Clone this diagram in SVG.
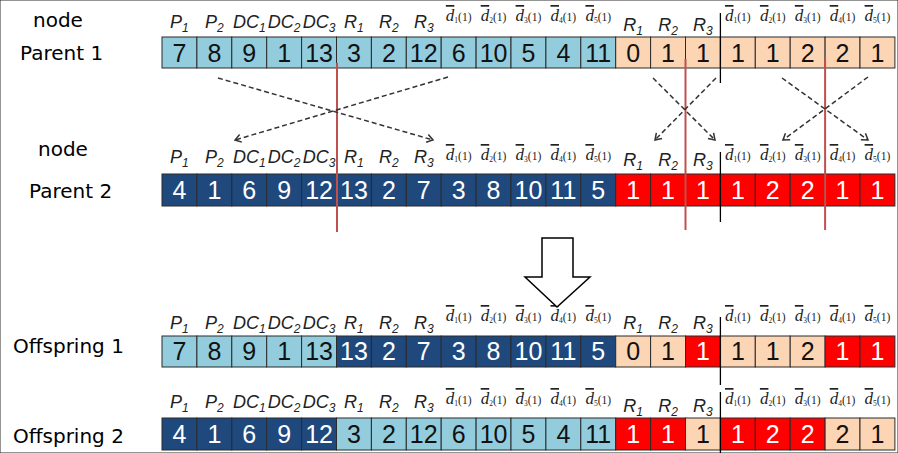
<svg xmlns="http://www.w3.org/2000/svg" width="898" height="453" viewBox="0 0 898 453">
<defs>
<style>
.lbl{font-family:'DejaVu Sans',sans-serif;font-size:20px;fill:#000}
rect{stroke:#2b2b2b;stroke-width:1}
.lb{fill:#93CDDD}
.db{fill:#1F497D}
.pe{fill:#FCD5B4}
.rd{fill:#FF0000}
.n{font-family:'Liberation Sans',Arial,sans-serif;font-size:25px;text-anchor:middle}
.k{fill:#111}
.w{fill:#fff}
.h{font-family:'Liberation Sans',Arial,sans-serif;font-style:italic;font-size:18px;text-anchor:middle;fill:#222}
.s{font-size:12px}
.d{font-family:'Liberation Serif','Times New Roman',serif;font-size:11.5px;text-anchor:middle;fill:#222}
.dd{font-style:italic;font-size:17px;text-decoration:overline}
.ds{font-size:7.5px}
.cut{stroke:#C0504D;stroke-width:2}
.sep{stroke:#000;stroke-width:1.3}
.x{stroke:#333;stroke-width:1.5;stroke-dasharray:5 3;fill:none;marker-end:url(#ah)}
</style>
<marker id="ah" markerWidth="10" markerHeight="10" refX="8" refY="5" orient="auto" markerUnits="userSpaceOnUse">
<path d="M2,1 L8,5 L2,9" fill="none" stroke="#333" stroke-width="1.5"/>
</marker>
</defs>
<rect x="0" y="0" width="898" height="453" fill="#fff" stroke="none"/>

<g id="labels">
<text class="lbl" x="33" y="27">node</text>
<text class="lbl" x="20" y="60">Parent 1</text>
<text class="lbl" x="38" y="156">node</text>
<text class="lbl" x="29" y="198">Parent 2</text>
<text class="lbl" x="13" y="353">Offspring 1</text>
<text class="lbl" x="13" y="443">Offspring 2</text>
</g>

<g id="parent1" transform="translate(0,37)">
<rect class="lb" x="162" y="0" width="34.9" height="31"/><rect class="lb" x="196.9" y="0" width="34.9" height="31"/><rect class="lb" x="231.8" y="0" width="34.9" height="31"/><rect class="lb" x="266.7" y="0" width="34.9" height="31"/><rect class="lb" x="301.6" y="0" width="34.9" height="31"/><rect class="lb" x="336.5" y="0" width="34.9" height="31"/><rect class="lb" x="371.4" y="0" width="34.9" height="31"/><rect class="lb" x="406.3" y="0" width="34.9" height="31"/><rect class="lb" x="441.2" y="0" width="34.9" height="31"/><rect class="lb" x="476.1" y="0" width="34.9" height="31"/><rect class="lb" x="511" y="0" width="34.9" height="31"/><rect class="lb" x="545.9" y="0" width="34.9" height="31"/><rect class="lb" x="580.8" y="0" width="34.9" height="31"/><rect class="pe" x="615.7" y="0" width="34.9" height="31"/><rect class="pe" x="650.6" y="0" width="34.9" height="31"/><rect class="pe" x="685.5" y="0" width="34.9" height="31"/><rect class="pe" x="720.4" y="0" width="34.9" height="31"/><rect class="pe" x="755.3" y="0" width="34.9" height="31"/><rect class="pe" x="790.2" y="0" width="34.9" height="31"/><rect class="pe" x="825.1" y="0" width="34.9" height="31"/><rect class="pe" x="860" y="0" width="34.9" height="31"/>
<g class="n">
<text class="k" x="179.45" y="25">7</text><text class="k" x="214.35" y="25">8</text><text class="k" x="249.25" y="25">9</text><text class="k" x="284.15" y="25">1</text><text class="k" x="319.05" y="25">13</text><text class="k" x="353.95" y="25">3</text><text class="k" x="388.85" y="25">2</text><text class="k" x="423.75" y="25">12</text><text class="k" x="458.65" y="25">6</text><text class="k" x="493.55" y="25">10</text><text class="k" x="528.45" y="25">5</text><text class="k" x="563.35" y="25">4</text><text class="k" x="598.25" y="25">11</text><text class="k" x="633.15" y="25">0</text><text class="k" x="668.05" y="25">1</text><text class="k" x="702.95" y="25">1</text><text class="k" x="737.85" y="25">1</text><text class="k" x="772.75" y="25">1</text><text class="k" x="807.65" y="25">2</text><text class="k" x="842.55" y="25">2</text><text class="k" x="877.45" y="25">1</text>
</g>
<text class="h" x="179.45" y="-9">P<tspan class="s" dy="4">1</tspan></text><text class="h" x="214.35" y="-9">P<tspan class="s" dy="4">2</tspan></text><text class="h" x="249.25" y="-9">DC<tspan class="s" dy="4">1</tspan></text><text class="h" x="284.15" y="-9">DC<tspan class="s" dy="4">2</tspan></text><text class="h" x="319.05" y="-9">DC<tspan class="s" dy="4">3</tspan></text><text class="h" x="353.95" y="-9">R<tspan class="s" dy="4">1</tspan></text><text class="h" x="388.85" y="-9">R<tspan class="s" dy="4">2</tspan></text><text class="h" x="423.75" y="-9">R<tspan class="s" dy="4">3</tspan></text>
<text class="d" x="458.65" y="-16"><tspan class="dd">d</tspan><tspan class="ds" dy="2">1</tspan><tspan dy="-2">(1)</tspan></text><text class="d" x="493.55" y="-16"><tspan class="dd">d</tspan><tspan class="ds" dy="2">2</tspan><tspan dy="-2">(1)</tspan></text><text class="d" x="528.45" y="-16"><tspan class="dd">d</tspan><tspan class="ds" dy="2">3</tspan><tspan dy="-2">(1)</tspan></text><text class="d" x="563.35" y="-16"><tspan class="dd">d</tspan><tspan class="ds" dy="2">4</tspan><tspan dy="-2">(1)</tspan></text><text class="d" x="598.25" y="-16"><tspan class="dd">d</tspan><tspan class="ds" dy="2">5</tspan><tspan dy="-2">(1)</tspan></text>
<text class="h" x="633.15" y="-6">R<tspan class="s" dy="4">1</tspan></text><text class="h" x="668.05" y="-6">R<tspan class="s" dy="4">2</tspan></text><text class="h" x="702.95" y="-6">R<tspan class="s" dy="4">3</tspan></text>
<text class="d" x="737.85" y="-16"><tspan class="dd">d</tspan><tspan class="ds" dy="2">1</tspan><tspan dy="-2">(1)</tspan></text><text class="d" x="772.75" y="-16"><tspan class="dd">d</tspan><tspan class="ds" dy="2">2</tspan><tspan dy="-2">(1)</tspan></text><text class="d" x="807.65" y="-16"><tspan class="dd">d</tspan><tspan class="ds" dy="2">3</tspan><tspan dy="-2">(1)</tspan></text><text class="d" x="842.55" y="-16"><tspan class="dd">d</tspan><tspan class="ds" dy="2">4</tspan><tspan dy="-2">(1)</tspan></text><text class="d" x="877.45" y="-16"><tspan class="dd">d</tspan><tspan class="ds" dy="2">5</tspan><tspan dy="-2">(1)</tspan></text>
</g>

<g id="parent2" transform="translate(0,174)">
<rect class="db" x="162" y="0" width="34.9" height="32"/><rect class="db" x="196.9" y="0" width="34.9" height="32"/><rect class="db" x="231.8" y="0" width="34.9" height="32"/><rect class="db" x="266.7" y="0" width="34.9" height="32"/><rect class="db" x="301.6" y="0" width="34.9" height="32"/><rect class="db" x="336.5" y="0" width="34.9" height="32"/><rect class="db" x="371.4" y="0" width="34.9" height="32"/><rect class="db" x="406.3" y="0" width="34.9" height="32"/><rect class="db" x="441.2" y="0" width="34.9" height="32"/><rect class="db" x="476.1" y="0" width="34.9" height="32"/><rect class="db" x="511" y="0" width="34.9" height="32"/><rect class="db" x="545.9" y="0" width="34.9" height="32"/><rect class="db" x="580.8" y="0" width="34.9" height="32"/><rect class="rd" x="615.7" y="0" width="34.9" height="32"/><rect class="rd" x="650.6" y="0" width="34.9" height="32"/><rect class="rd" x="685.5" y="0" width="34.9" height="32"/><rect class="rd" x="720.4" y="0" width="34.9" height="32"/><rect class="rd" x="755.3" y="0" width="34.9" height="32"/><rect class="rd" x="790.2" y="0" width="34.9" height="32"/><rect class="rd" x="825.1" y="0" width="34.9" height="32"/><rect class="rd" x="860" y="0" width="34.9" height="32"/>
<g class="n">
<text class="w" x="179.45" y="25">4</text><text class="w" x="214.35" y="25">1</text><text class="w" x="249.25" y="25">6</text><text class="w" x="284.15" y="25">9</text><text class="w" x="319.05" y="25">12</text><text class="w" x="353.95" y="25">13</text><text class="w" x="388.85" y="25">2</text><text class="w" x="423.75" y="25">7</text><text class="w" x="458.65" y="25">3</text><text class="w" x="493.55" y="25">8</text><text class="w" x="528.45" y="25">10</text><text class="w" x="563.35" y="25">11</text><text class="w" x="598.25" y="25">5</text><text class="w" x="633.15" y="25">1</text><text class="w" x="668.05" y="25">1</text><text class="w" x="702.95" y="25">1</text><text class="w" x="737.85" y="25">1</text><text class="w" x="772.75" y="25">2</text><text class="w" x="807.65" y="25">2</text><text class="w" x="842.55" y="25">1</text><text class="w" x="877.45" y="25">1</text>
</g>
<text class="h" x="179.45" y="-11">P<tspan class="s" dy="4">1</tspan></text><text class="h" x="214.35" y="-11">P<tspan class="s" dy="4">2</tspan></text><text class="h" x="249.25" y="-11">DC<tspan class="s" dy="4">1</tspan></text><text class="h" x="284.15" y="-11">DC<tspan class="s" dy="4">2</tspan></text><text class="h" x="319.05" y="-11">DC<tspan class="s" dy="4">3</tspan></text><text class="h" x="353.95" y="-11">R<tspan class="s" dy="4">1</tspan></text><text class="h" x="388.85" y="-11">R<tspan class="s" dy="4">2</tspan></text><text class="h" x="423.75" y="-11">R<tspan class="s" dy="4">3</tspan></text>
<text class="d" x="458.65" y="-14"><tspan class="dd">d</tspan><tspan class="ds" dy="2">1</tspan><tspan dy="-2">(1)</tspan></text><text class="d" x="493.55" y="-14"><tspan class="dd">d</tspan><tspan class="ds" dy="2">2</tspan><tspan dy="-2">(1)</tspan></text><text class="d" x="528.45" y="-14"><tspan class="dd">d</tspan><tspan class="ds" dy="2">3</tspan><tspan dy="-2">(1)</tspan></text><text class="d" x="563.35" y="-14"><tspan class="dd">d</tspan><tspan class="ds" dy="2">4</tspan><tspan dy="-2">(1)</tspan></text><text class="d" x="598.25" y="-14"><tspan class="dd">d</tspan><tspan class="ds" dy="2">5</tspan><tspan dy="-2">(1)</tspan></text>
<text class="h" x="633.15" y="-8">R<tspan class="s" dy="4">1</tspan></text><text class="h" x="668.05" y="-8">R<tspan class="s" dy="4">2</tspan></text><text class="h" x="702.95" y="-8">R<tspan class="s" dy="4">3</tspan></text>
<text class="d" x="737.85" y="-14"><tspan class="dd">d</tspan><tspan class="ds" dy="2">1</tspan><tspan dy="-2">(1)</tspan></text><text class="d" x="772.75" y="-14"><tspan class="dd">d</tspan><tspan class="ds" dy="2">2</tspan><tspan dy="-2">(1)</tspan></text><text class="d" x="807.65" y="-14"><tspan class="dd">d</tspan><tspan class="ds" dy="2">3</tspan><tspan dy="-2">(1)</tspan></text><text class="d" x="842.55" y="-14"><tspan class="dd">d</tspan><tspan class="ds" dy="2">4</tspan><tspan dy="-2">(1)</tspan></text><text class="d" x="877.45" y="-14"><tspan class="dd">d</tspan><tspan class="ds" dy="2">5</tspan><tspan dy="-2">(1)</tspan></text>
</g>

<g id="offspring1" transform="translate(0,336)">
<rect class="lb" x="162" y="0" width="34.9" height="31"/><rect class="lb" x="196.9" y="0" width="34.9" height="31"/><rect class="lb" x="231.8" y="0" width="34.9" height="31"/><rect class="lb" x="266.7" y="0" width="34.9" height="31"/><rect class="lb" x="301.6" y="0" width="34.9" height="31"/><rect class="db" x="336.5" y="0" width="34.9" height="31"/><rect class="db" x="371.4" y="0" width="34.9" height="31"/><rect class="db" x="406.3" y="0" width="34.9" height="31"/><rect class="db" x="441.2" y="0" width="34.9" height="31"/><rect class="db" x="476.1" y="0" width="34.9" height="31"/><rect class="db" x="511" y="0" width="34.9" height="31"/><rect class="db" x="545.9" y="0" width="34.9" height="31"/><rect class="db" x="580.8" y="0" width="34.9" height="31"/><rect class="pe" x="615.7" y="0" width="34.9" height="31"/><rect class="pe" x="650.6" y="0" width="34.9" height="31"/><rect class="rd" x="685.5" y="0" width="34.9" height="31"/><rect class="pe" x="720.4" y="0" width="34.9" height="31"/><rect class="pe" x="755.3" y="0" width="34.9" height="31"/><rect class="pe" x="790.2" y="0" width="34.9" height="31"/><rect class="rd" x="825.1" y="0" width="34.9" height="31"/><rect class="rd" x="860" y="0" width="34.9" height="31"/>
<g class="n">
<text class="k" x="179.45" y="24">7</text><text class="k" x="214.35" y="24">8</text><text class="k" x="249.25" y="24">9</text><text class="k" x="284.15" y="24">1</text><text class="k" x="319.05" y="24">13</text><text class="w" x="353.95" y="24">13</text><text class="w" x="388.85" y="24">2</text><text class="w" x="423.75" y="24">7</text><text class="w" x="458.65" y="24">3</text><text class="w" x="493.55" y="24">8</text><text class="w" x="528.45" y="24">10</text><text class="w" x="563.35" y="24">11</text><text class="w" x="598.25" y="24">5</text><text class="k" x="633.15" y="24">0</text><text class="k" x="668.05" y="24">1</text><text class="w" x="702.95" y="24">1</text><text class="k" x="737.85" y="24">1</text><text class="k" x="772.75" y="24">1</text><text class="k" x="807.65" y="24">2</text><text class="w" x="842.55" y="24">1</text><text class="w" x="877.45" y="24">1</text>
</g>
<text class="h" x="179.45" y="-7">P<tspan class="s" dy="4">1</tspan></text><text class="h" x="214.35" y="-7">P<tspan class="s" dy="4">2</tspan></text><text class="h" x="249.25" y="-7">DC<tspan class="s" dy="4">1</tspan></text><text class="h" x="284.15" y="-7">DC<tspan class="s" dy="4">2</tspan></text><text class="h" x="319.05" y="-7">DC<tspan class="s" dy="4">3</tspan></text><text class="h" x="353.95" y="-7">R<tspan class="s" dy="4">1</tspan></text><text class="h" x="388.85" y="-7">R<tspan class="s" dy="4">2</tspan></text><text class="h" x="423.75" y="-7">R<tspan class="s" dy="4">3</tspan></text>
<text class="d" x="458.65" y="-15"><tspan class="dd">d</tspan><tspan class="ds" dy="2">1</tspan><tspan dy="-2">(1)</tspan></text><text class="d" x="493.55" y="-15"><tspan class="dd">d</tspan><tspan class="ds" dy="2">2</tspan><tspan dy="-2">(1)</tspan></text><text class="d" x="528.45" y="-15"><tspan class="dd">d</tspan><tspan class="ds" dy="2">3</tspan><tspan dy="-2">(1)</tspan></text><text class="d" x="563.35" y="-15"><tspan class="dd">d</tspan><tspan class="ds" dy="2">4</tspan><tspan dy="-2">(1)</tspan></text><text class="d" x="598.25" y="-15"><tspan class="dd">d</tspan><tspan class="ds" dy="2">5</tspan><tspan dy="-2">(1)</tspan></text>
<text class="h" x="633.15" y="-7">R<tspan class="s" dy="4">1</tspan></text><text class="h" x="668.05" y="-7">R<tspan class="s" dy="4">2</tspan></text><text class="h" x="702.95" y="-7">R<tspan class="s" dy="4">3</tspan></text>
<text class="d" x="737.85" y="-15"><tspan class="dd">d</tspan><tspan class="ds" dy="2">1</tspan><tspan dy="-2">(1)</tspan></text><text class="d" x="772.75" y="-15"><tspan class="dd">d</tspan><tspan class="ds" dy="2">2</tspan><tspan dy="-2">(1)</tspan></text><text class="d" x="807.65" y="-15"><tspan class="dd">d</tspan><tspan class="ds" dy="2">3</tspan><tspan dy="-2">(1)</tspan></text><text class="d" x="842.55" y="-15"><tspan class="dd">d</tspan><tspan class="ds" dy="2">4</tspan><tspan dy="-2">(1)</tspan></text><text class="d" x="877.45" y="-15"><tspan class="dd">d</tspan><tspan class="ds" dy="2">5</tspan><tspan dy="-2">(1)</tspan></text>
</g>

<g id="offspring2" transform="translate(0,418)">
<rect class="db" x="162" y="0" width="34.9" height="32"/><rect class="db" x="196.9" y="0" width="34.9" height="32"/><rect class="db" x="231.8" y="0" width="34.9" height="32"/><rect class="db" x="266.7" y="0" width="34.9" height="32"/><rect class="db" x="301.6" y="0" width="34.9" height="32"/><rect class="lb" x="336.5" y="0" width="34.9" height="32"/><rect class="lb" x="371.4" y="0" width="34.9" height="32"/><rect class="lb" x="406.3" y="0" width="34.9" height="32"/><rect class="lb" x="441.2" y="0" width="34.9" height="32"/><rect class="lb" x="476.1" y="0" width="34.9" height="32"/><rect class="lb" x="511" y="0" width="34.9" height="32"/><rect class="lb" x="545.9" y="0" width="34.9" height="32"/><rect class="lb" x="580.8" y="0" width="34.9" height="32"/><rect class="rd" x="615.7" y="0" width="34.9" height="32"/><rect class="rd" x="650.6" y="0" width="34.9" height="32"/><rect class="pe" x="685.5" y="0" width="34.9" height="32"/><rect class="rd" x="720.4" y="0" width="34.9" height="32"/><rect class="rd" x="755.3" y="0" width="34.9" height="32"/><rect class="rd" x="790.2" y="0" width="34.9" height="32"/><rect class="pe" x="825.1" y="0" width="34.9" height="32"/><rect class="pe" x="860" y="0" width="34.9" height="32"/>
<g class="n">
<text class="w" x="179.45" y="25">4</text><text class="w" x="214.35" y="25">1</text><text class="w" x="249.25" y="25">6</text><text class="w" x="284.15" y="25">9</text><text class="w" x="319.05" y="25">12</text><text class="k" x="353.95" y="25">3</text><text class="k" x="388.85" y="25">2</text><text class="k" x="423.75" y="25">12</text><text class="k" x="458.65" y="25">6</text><text class="k" x="493.55" y="25">10</text><text class="k" x="528.45" y="25">5</text><text class="k" x="563.35" y="25">4</text><text class="k" x="598.25" y="25">11</text><text class="w" x="633.15" y="25">1</text><text class="w" x="668.05" y="25">1</text><text class="k" x="702.95" y="25">1</text><text class="w" x="737.85" y="25">1</text><text class="w" x="772.75" y="25">2</text><text class="w" x="807.65" y="25">2</text><text class="k" x="842.55" y="25">2</text><text class="k" x="877.45" y="25">1</text>
</g>
<text class="h" x="179.45" y="-10">P<tspan class="s" dy="4">1</tspan></text><text class="h" x="214.35" y="-10">P<tspan class="s" dy="4">2</tspan></text><text class="h" x="249.25" y="-10">DC<tspan class="s" dy="4">1</tspan></text><text class="h" x="284.15" y="-10">DC<tspan class="s" dy="4">2</tspan></text><text class="h" x="319.05" y="-10">DC<tspan class="s" dy="4">3</tspan></text><text class="h" x="353.95" y="-10">R<tspan class="s" dy="4">1</tspan></text><text class="h" x="388.85" y="-10">R<tspan class="s" dy="4">2</tspan></text><text class="h" x="423.75" y="-10">R<tspan class="s" dy="4">3</tspan></text>
<text class="d" x="458.65" y="-14"><tspan class="dd">d</tspan><tspan class="ds" dy="2">1</tspan><tspan dy="-2">(1)</tspan></text><text class="d" x="493.55" y="-14"><tspan class="dd">d</tspan><tspan class="ds" dy="2">2</tspan><tspan dy="-2">(1)</tspan></text><text class="d" x="528.45" y="-14"><tspan class="dd">d</tspan><tspan class="ds" dy="2">3</tspan><tspan dy="-2">(1)</tspan></text><text class="d" x="563.35" y="-14"><tspan class="dd">d</tspan><tspan class="ds" dy="2">4</tspan><tspan dy="-2">(1)</tspan></text><text class="d" x="598.25" y="-14"><tspan class="dd">d</tspan><tspan class="ds" dy="2">5</tspan><tspan dy="-2">(1)</tspan></text>
<text class="h" x="633.15" y="-6">R<tspan class="s" dy="4">1</tspan></text><text class="h" x="668.05" y="-6">R<tspan class="s" dy="4">2</tspan></text><text class="h" x="702.95" y="-6">R<tspan class="s" dy="4">3</tspan></text>
<text class="d" x="737.85" y="-14"><tspan class="dd">d</tspan><tspan class="ds" dy="2">1</tspan><tspan dy="-2">(1)</tspan></text><text class="d" x="772.75" y="-14"><tspan class="dd">d</tspan><tspan class="ds" dy="2">2</tspan><tspan dy="-2">(1)</tspan></text><text class="d" x="807.65" y="-14"><tspan class="dd">d</tspan><tspan class="ds" dy="2">3</tspan><tspan dy="-2">(1)</tspan></text><text class="d" x="842.55" y="-14"><tspan class="dd">d</tspan><tspan class="ds" dy="2">4</tspan><tspan dy="-2">(1)</tspan></text><text class="d" x="877.45" y="-14"><tspan class="dd">d</tspan><tspan class="ds" dy="2">5</tspan><tspan dy="-2">(1)</tspan></text>
</g>

<g id="marks">
<line class="cut" x1="337" y1="63" x2="337" y2="232"/>
<line class="cut" x1="685.5" y1="59" x2="685.5" y2="230"/>
<line class="cut" x1="825.1" y1="59" x2="825.1" y2="230"/>
<line class="sep" x1="720.4" y1="13" x2="720.4" y2="83"/>
<line class="sep" x1="720.4" y1="152" x2="720.4" y2="222"/>
<line class="sep" x1="720.4" y1="317" x2="720.4" y2="385"/>
<line class="sep" x1="720.4" y1="392" x2="720.4" y2="453"/>
</g>

<g id="connectors">
<line class="x" x1="218" y1="78" x2="433" y2="140"/>
<line class="x" x1="448" y1="77" x2="235" y2="140"/>
<line class="x" x1="653" y1="78" x2="715" y2="140"/>
<line class="x" x1="716" y1="78" x2="655" y2="140"/>
<line class="x" x1="782" y1="78" x2="868" y2="140"/>
<line class="x" x1="868" y1="77" x2="783" y2="140"/>
</g>

<g id="bigarrow">
<polygon points="542,238 573,238 573,277 590,277 557,307 525,277 542,277" fill="#fff" stroke="#000" stroke-width="1.5"/>
</g>
</svg>
